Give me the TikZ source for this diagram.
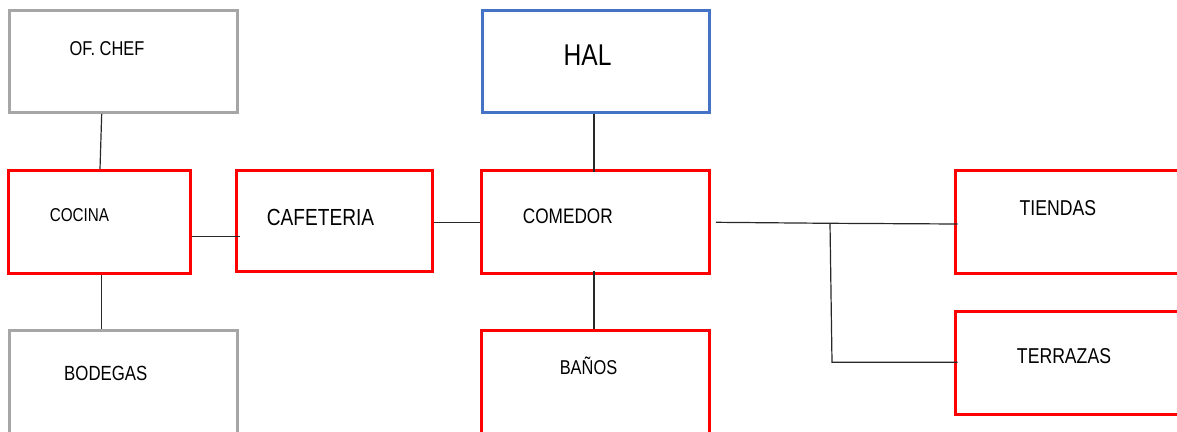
\documentclass[tikz,border=0pt]{standalone}
\usepackage{graphicx}
\usepackage{fontspec}
\setmainfont{Liberation Sans}
\usetikzlibrary{calc}
\definecolor{boxred}{RGB}{255,0,0}
\definecolor{boxgray}{RGB}{166,166,166}
\definecolor{boxblue}{RGB}{68,114,196}
\definecolor{linecol}{RGB}{40,40,40}
\newcommand{\lbltext}[2]{\fontsize{#1}{#1}\selectfont\scalebox{0.82}[1]{#2}}
\begin{document}
\begin{tikzpicture}[x=1pt,y=-1pt,
  box/.style={draw, line width=3pt, inner sep=0pt, outer sep=0pt, fill=none},
  redbox/.style={box, draw=boxred},
  graybox/.style={box, draw=boxgray},
  bluebox/.style={box, draw=boxblue},
  lbl/.style={anchor=base, inner sep=0pt, text=black},
  conn/.style={draw=linecol, line width=1.2pt}]
\useasboundingbox (0,0) rectangle (1177,431);
\clip (0,0) rectangle (1177,431);
% boxes
\node[graybox, minimum width=228.3pt, minimum height=101.6pt] (ofchef) at (123.2,61.5) {};
\node[bluebox, minimum width=227.3pt, minimum height=102.3pt] (hal) at (595.7,61.8) {};
\node[redbox, minimum width=182pt, minimum height=102.6pt] (cocina) at (99.3,222) {};
\node[redbox, minimum width=196pt, minimum height=101.3pt] (cafeteria) at (334,221.3) {};
\node[redbox, minimum width=227.7pt, minimum height=103.3pt] (comedor) at (595.8,221.7) {};
\node[redbox, minimum width=227.7pt, minimum height=103pt] (banos) at (595.8,381.5) {};
\node[redbox, minimum width=228pt, minimum height=103.3pt] (tiendas) at (1069,221.7) {};
\node[redbox, minimum width=228pt, minimum height=103.3pt] (terrazas) at (1069,362.7) {};
\node[graybox, minimum width=228.3pt, minimum height=103pt] (bodegas) at (123.2,381.5) {};
% labels
\node[lbl] (tofchef) at (107,55) {\lbltext{20}{OF. CHEF}};
\node[lbl] (thal) at (587.5,65) {\lbltext{30}{HAL}};
\node[lbl] (tcocina) at (79.5,221) {\lbltext{18.6}{COCINA}};
\node[lbl] (tcafeteria) at (320.5,225.7) {\lbltext{23.3}{CAFETERIA}};
\node[lbl] (tcomedor) at (567.8,223.3) {\lbltext{21}{COMEDOR}};
\node[lbl] (tbanos) at (588.5,374.3) {\lbltext{20}{BAÑOS}};
\node[lbl] (ttiendas) at (1057.8,215) {\lbltext{21.5}{TIENDAS}};
\node[lbl] (tterrazas) at (1064,363.3) {\lbltext{21.5}{TERRAZAS}};
\node[lbl] (tbodegas) at (105.8,380.7) {\lbltext{20.5}{BODEGAS}};
% connectors
\draw[conn] ($(ofchef.south)+(-21.5,1.5)$) -- ($(cocina.north)+(0.7,-1.5)$);
\draw[conn] ($(cocina.south)+(2.4,1.5)$) -- ($(bodegas.north)+(-21.5,-1.5)$);
\draw[conn] ($(cocina.east)+(1.5,14.7)$) -- ($(cafeteria.west)+(4,15.4)$);
\draw[conn] ($(cafeteria.east)+(1.5,1)$) -- ($(comedor.west)+(-1.5,0.6)$);
\draw[conn] ($(hal.south)+(-1.7,1.5)$) -- ($(comedor.north)+(-1.8,1.5)$);
\draw[conn] ($(comedor.south)+(-1.8,-2.5)$) -- ($(banos.north)+(-1.8,-1.5)$);
\coordinate (junc) at (830,223.3);
\draw[conn] ($(comedor.east)+(6.3,0.6)$) -- (junc) -- ($(tiendas.west)+(2.7,2.3)$);
\draw[conn] (junc) -- (832,362.3) -- ($(terrazas.west)+(2.7,-0.4)$);
\end{tikzpicture}
\end{document}
